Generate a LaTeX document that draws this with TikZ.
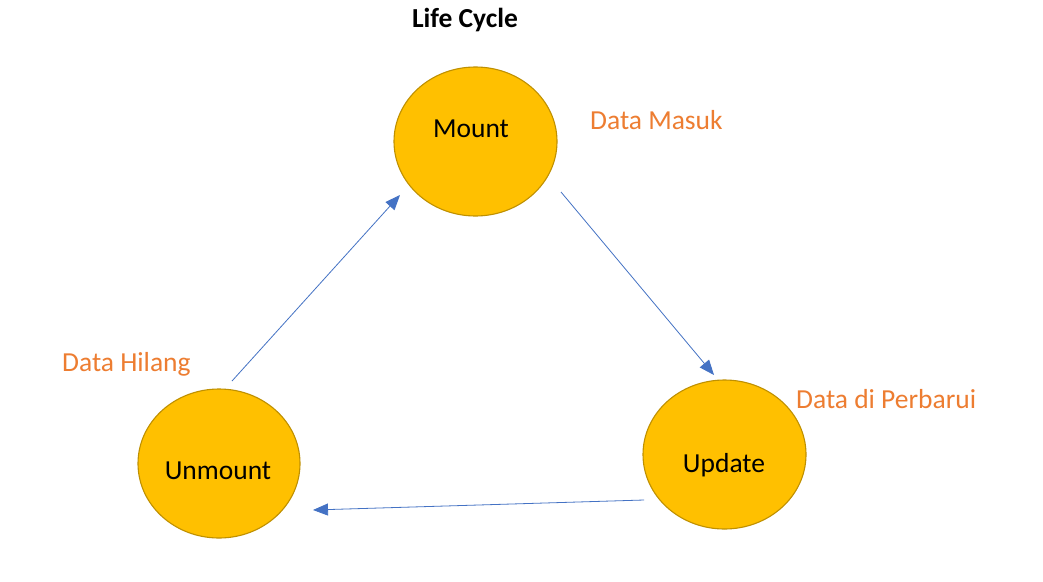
\documentclass[tikz,border=0pt]{standalone}
\usepackage{fontspec}
\setmainfont{Carlito}
\usetikzlibrary{arrows.meta}
\definecolor{stagefill}{HTML}{FFC000}
\definecolor{stageline}{HTML}{BF9000}
\definecolor{notecol}{HTML}{ED7D31}
\definecolor{arrowcol}{HTML}{4472C4}
\begin{document}
\begin{tikzpicture}[x=1pt,y=-1pt,
  stage/.style={draw=stageline,fill=stagefill,line width=1.1pt},
  stagetext/.style={font=\fontsize{27.5}{32}\selectfont,text=black,inner sep=0pt,anchor=base},
  note/.style={font=\fontsize{27.5}{32}\selectfont,text=notecol,inner sep=0pt,anchor=base west},
  flow/.style={draw=arrowcol,line width=0.8pt,-{Triangle[length=15pt,width=12pt]}}]
\fill[white] (0,0) rectangle (1043,581);
\useasboundingbox (0,0) rectangle (1043,581);
\node[stagetext,font=\bfseries\fontsize{27.5}{32}\selectfont] (title) at (465,27) {Life Cycle};
\draw[stage] (475.5,141.5) ellipse [x radius=81.5, y radius=74.5];
\draw[stage] (219,463.5) ellipse [x radius=81, y radius=74.5];
\draw[stage] (724.5,454.5) ellipse [x radius=81.5, y radius=74.5];
\node[stagetext] (mount) at (471,137) {Mount};
\node[stagetext] (unmount) at (218,479) {Unmount};
\node[stagetext] (update) at (724,472) {Update};
\node[note] (masuk) at (590,129) {Data Masuk};
\node[note] (hilang) at (62,371) {Data Hilang};
\node[note] (baru) at (796,408) {Data di Perbarui};
\coordinate (a1) at (561,192);
\coordinate (a2) at (714,375);
\coordinate (b1) at (644,500);
\coordinate (b2) at (313,510);
\coordinate (c1) at (232,381);
\coordinate (c2) at (400,195);
\draw[flow] (a1) -- (a2);
\draw[flow] (b1) -- (b2);
\draw[flow] (c1) -- (c2);
\end{tikzpicture}
\end{document}
